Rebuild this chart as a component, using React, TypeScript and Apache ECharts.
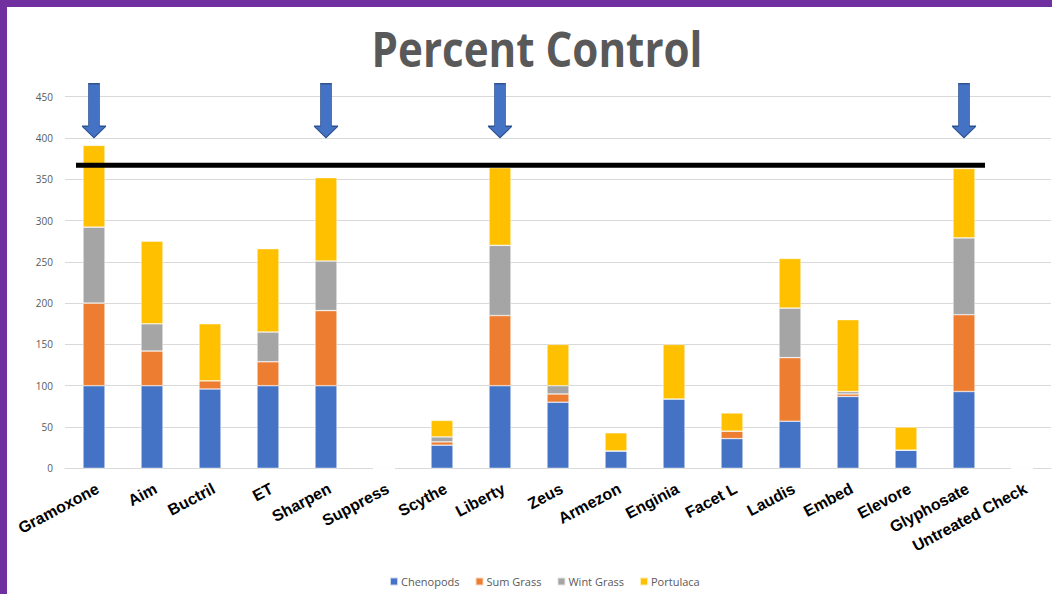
import React, { useEffect, useRef } from "react";
import * as echarts from "echarts";

const categories = [
  "Gramoxone", "Aim", "Buctril", "ET", "Sharpen", "Suppress", "Scythe", "Liberty",
  "Zeus", "Armezon", "Enginia", "Facet L", "Laudis", "Embed", "Elevore", "Glyphosate",
  "Untreated Check",
];
const chenopods = [100, 100, 96, 100, 100, 0, 28, 100, 80, 21, 84, 36, 57, 87, 22, 93, 0];
const sumGrass = [100, 42, 10, 29, 91, 0, 4, 85, 10, 0, 0, 9, 77, 3, 0, 93, 0];
const wintGrass = [92, 33, 0, 36, 60, 0, 6, 85, 10, 0, 0, 0, 60, 3, 0, 93, 0];
const portulaca = [99, 100, 69, 101, 101, 0, 20, 94, 50, 22, 66, 22, 60, 87, 28, 84, 0];
const seriesNames = ["Chenopods", "Sum Grass", "Wint Grass", "Portulaca"];
const seriesColors = ["#4472C4", "#ED7D31", "#A5A5A5", "#FFC000"];
const yTicks = { min: 0, max: 450, interval: 50 };
const arrowCategories = ["Gramoxone", "Sharpen", "Liberty", "Glyphosate"];
const arrowValue = 433;
const thresholdValue = 367;
const titleText = "Percent Control";

const ARROW_PATH = "path://M6.5,0 L17.5,0 L17.5,42.4 L24,42.4 L12,54 L0,42.4 L6.5,42.4 Z";

export default function App() {
  const ref = useRef<HTMLDivElement>(null);
  useEffect(() => {
    if (!ref.current) return;
    const chart = echarts.init(ref.current, null, { renderer: "svg" });
    const data = [chenopods, sumGrass, wintGrass, portulaca];
    const baseGraphic: any[] = [
      { type: "rect", shape: { x: 0, y: 0, width: 7, height: 594 }, style: { fill: "#7030A0" }, z: 100 },
      { type: "rect", shape: { x: 0, y: 0, width: 1052, height: 7 }, style: { fill: "#7030A0" }, z: 100 },
      {
        type: "text",
        x: 537,
        y: 48,
        scaleX: 0.86,
        style: {
          text: titleText,
          fill: "#595959",
          font: 'bold 49px "Open Sans", sans-serif',
          textAlign: "center",
          textVerticalAlign: "middle",
        },
      },
    ];
    const option: any = {
      animation: false,
      backgroundColor: "#ffffff",
      grid: { left: 65, right: 1, top: 96.7, bottom: 125.7, containLabel: false },
      legend: {
        data: seriesNames,
        left: 384,
        top: 571,
        icon: "rect",
        itemWidth: 8,
        itemHeight: 8,
        itemGap: 15,
        textStyle: { color: "#595959", fontSize: 11, fontFamily: "Open Sans", padding: [0, 0, 0, -2] },
      },
      xAxis: {
        type: "category",
        data: categories,
        axisLine: { show: true, lineStyle: { color: "#D9D9D9", width: 1 } },
        axisTick: { show: false },
        axisLabel: {
          interval: 0,
          rotate: 28,
          margin: 12,
          align: "right",
          verticalAlign: "top",
          color: "#000000",
          fontSize: 16,
          fontWeight: "bold",
          fontFamily: "Liberation Sans, Arial, sans-serif",
        },
      },
      yAxis: {
        type: "value",
        min: yTicks.min,
        max: yTicks.max,
        interval: yTicks.interval,
        axisLine: { show: false },
        axisTick: { show: false },
        splitLine: { lineStyle: { color: "#D9D9D9", width: 1 } },
        axisLabel: { color: "#595959", fontSize: 10, fontFamily: "Open Sans", margin: 12 },
      },
      series: seriesNames.map((name, i) => ({
        name,
        type: "bar",
        stack: "total",
        barWidth: 22,
        data: data[i],
        itemStyle: { color: seriesColors[i], borderColor: "rgba(255,255,255,0.7)", borderWidth: 0.6 },
        ...(i === 0
          ? {
              markPoint: {
                symbol: ARROW_PATH,
                symbolSize: [24, 54],
                label: { show: false },
                itemStyle: { color: "#4472C4", borderColor: "#2F528F", borderWidth: 1 },
                data: arrowCategories.map((c) => ({ coord: [c, arrowValue], value: "" })),
              },
            }
          : {}),
      })),
      graphic: baseGraphic,
    };
    chart.setOption(option);
    const y = chart.convertToPixel({ yAxisIndex: 0 }, thresholdValue) as number;
    const xa = chart.convertToPixel({ xAxisIndex: 0 }, categories[0]) as number;
    const xb = chart.convertToPixel({ xAxisIndex: 0 }, "Glyphosate") as number;
    chart.setOption({
      graphic: [
        ...baseGraphic,
        {
          type: "line",
          shape: { x1: xa - 18, y1: y, x2: xb + 21, y2: y },
          style: { stroke: "#000000", lineWidth: 5 },
          z: 50,
        },
      ],
    });
    return () => chart.dispose();
  }, []);
  return (
    <div
      ref={ref}
      style={{ position: "absolute", left: 0, top: 0, width: 1052, height: 594, background: "#fff" }}
    />
  );
}
